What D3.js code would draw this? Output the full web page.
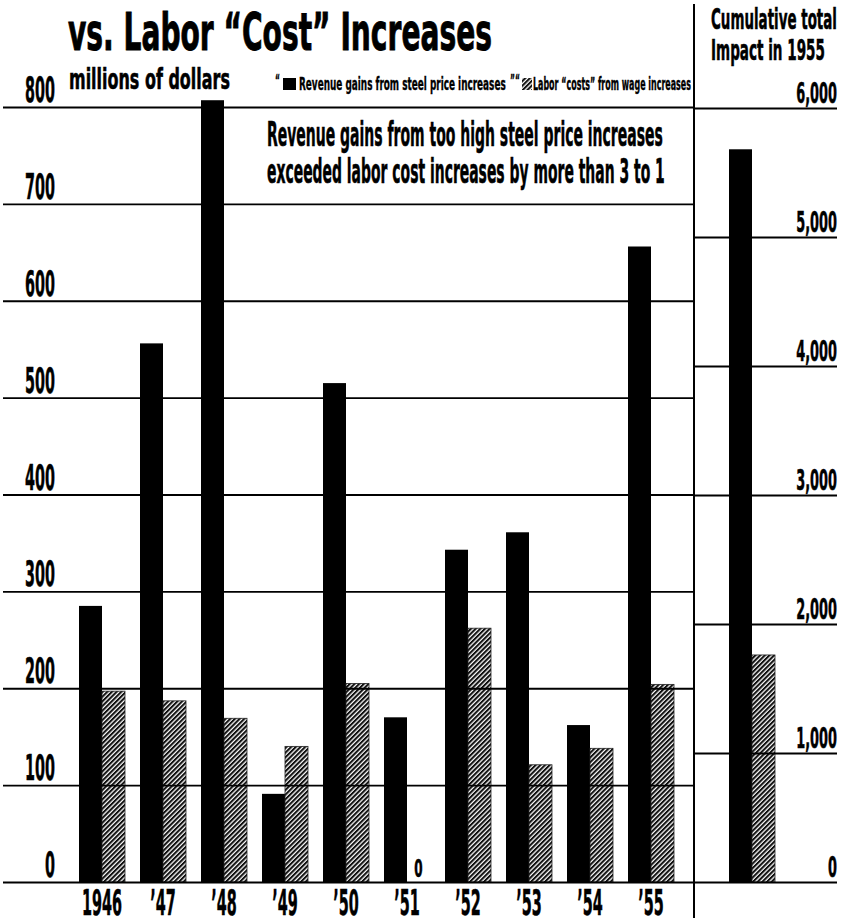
<!DOCTYPE html>
<html>
<head>
<meta charset="utf-8">
<script src="https://cdn.jsdelivr.net/npm/d3@7"></script>
<style>
  html, body { margin: 0; padding: 0; background: #fff; }
  svg text { font-family: "DejaVu Sans", "Liberation Sans", sans-serif; font-weight: bold; fill: #000; }
</style>
</head>
<body>
<script>
// ---- data ----
const years = ["1946", "’47", "’48", "’49", "’50", "’51", "’52", "’53", "’54", "’55"];
const revenueGains = [285, 556, 807, 91, 515, 170, 343, 361, 162, 656];
const laborCosts   = [197, 187, 169, 140, 205, 0, 262, 121, 138, 204];
const cumulativeRevenue = 5680;
const cumulativeLabor = 1760;
const leftTicks = [0, 100, 200, 300, 400, 500, 600, 700, 800];
const rightTicks = [0, 1000, 2000, 3000, 4000, 5000, 6000];
const rightTickLabels = ["0", "1,000", "2,000", "3,000", "4,000", "5,000", "6,000"];
const series = ["revenue", "labor"];

const W = 846, H = 922;
const svg = d3.select("body").append("svg").attr("width", W).attr("height", H);

const defs = svg.append("defs");
const pat = defs.append("pattern").attr("id", "hatch")
  .attr("patternUnits", "userSpaceOnUse").attr("width", 3.3).attr("height", 3.3)
  .attr("patternTransform", "rotate(45)");
pat.append("rect").attr("width", 3.3).attr("height", 3.3).attr("fill", "#fff");
pat.append("line").attr("x1", 1).attr("y1", 0).attr("x2", 1).attr("y2", 3.3)
  .attr("stroke", "#111").attr("stroke-width", 2.1);

// ---- scales ----
const y = d3.scaleLinear().domain([0, 800]).range([882, 107]);
const yR = d3.scaleLinear().domain([0, 6000]).range([882, 108]);
const x0 = d3.scaleBand().domain(years).range([71.5, 681.5]).paddingInner(0.246).paddingOuter(0.123);
const x1 = d3.scaleBand().domain(series).range([0, x0.bandwidth()]);
const xR = d3.scaleBand().domain(["cum"]).range([729, 775]);
const x1R = d3.scaleBand().domain(series).range([0, xR.bandwidth()]);

function sText(x, yy, str, size, anchor, sx) {
  return svg.append("text")
    .attr("transform", `translate(${x},${yy}) scale(${sx},1)`)
    .attr("text-anchor", anchor).attr("font-size", size)
    .attr("stroke", "#000").attr("stroke-width", 0.6)
    .text(str);
}
// text scaled horizontally to an exact width (start anchored)
function fitText(x, yy, str, size, len, sw) {
  const t = svg.append("text").attr("font-size", size).text(str)
    .attr("stroke", "#000").attr("stroke-width", sw == null ? 0.6 : sw);
  const nat = t.node().getComputedTextLength();
  t.attr("transform", `translate(${x},${yy}) scale(${len / nat},1)`);
  return t;
}

// ---- bars (left) ----
const groups = svg.append("g").selectAll("g").data(years).join("g")
  .attr("transform", d => `translate(${x0(d)},0)`);
groups.append("rect")
  .attr("x", x1("revenue")).attr("width", x1.bandwidth())
  .attr("y", (d, i) => y(revenueGains[i])).attr("height", (d, i) => y(0) - y(revenueGains[i]))
  .attr("fill", "#000");
groups.filter((d, i) => laborCosts[i] > 0).append("rect")
  .attr("x", x1("labor")).attr("width", x1.bandwidth())
  .attr("y", d => y(laborCosts[years.indexOf(d)]))
  .attr("height", d => y(0) - y(laborCosts[years.indexOf(d)]))
  .attr("fill", "url(#hatch)").attr("stroke", "#222").attr("stroke-width", 0.8);
groups.filter((d, i) => laborCosts[i] === 0).each(function () {
  const g = d3.select(this);
  const cx = x0(g.datum()) + x1("labor") + x1.bandwidth() / 2;
  sText(cx, 877, "0", 24, "middle", 0.5);
});

// ---- bars (right) ----
svg.append("rect").attr("x", xR("cum") + x1R("revenue")).attr("width", x1R.bandwidth())
  .attr("y", yR(cumulativeRevenue)).attr("height", yR(0) - yR(cumulativeRevenue)).attr("fill", "#000");
svg.append("rect").attr("x", xR("cum") + x1R("labor")).attr("width", x1R.bandwidth())
  .attr("y", yR(cumulativeLabor)).attr("height", yR(0) - yR(cumulativeLabor))
  .attr("fill", "url(#hatch)").attr("stroke", "#222").attr("stroke-width", 0.8);

// ---- gridlines via axes ----
const gl = svg.append("g").attr("transform", "translate(694,0)")
  .call(d3.axisLeft(y).tickValues(leftTicks).tickSize(691).tickFormat(""));
gl.select(".domain").remove();
gl.selectAll("line").attr("stroke", "#000").attr("stroke-width", 1.8);
const gr = svg.append("g").attr("transform", "translate(694,0)")
  .call(d3.axisRight(yR).tickValues(rightTicks).tickSize(143).tickFormat(""));
gr.select(".domain").remove();
gr.selectAll("line").attr("stroke", "#000").attr("stroke-width", 1.8);

// divider
svg.append("line").attr("x1", 694).attr("x2", 694).attr("y1", 4).attr("y2", 918)
  .attr("stroke", "#000").attr("stroke-width", 2);

// ---- tick labels ----
leftTicks.forEach(v => sText(55, y(v) - 5, String(v), 35, "end", 0.41));
rightTicks.forEach((v, i) => sText(837, yR(v) - 5, rightTickLabels[i], 28, "end", 0.46));
years.forEach(d => sText(x0(d) + x0.bandwidth() / 2, 915, d, 36, "middle", 0.40));

// ---- titles and texts ----
fitText(68, 50, "vs. Labor “Cost” Increases", 52, 424, 1);
fitText(69, 89, "millions of dollars", 28, 161);
fitText(267, 146, "Revenue gains from too high steel price increases", 34, 396);
fitText(267, 183, "exceeded labor cost increases by more than 3 to 1", 34, 398);
fitText(711, 29, "Cumulative total", 29, 126);
fitText(711, 60, "Impact in 1955", 29, 114);

// legend
fitText(275, 86, "“", 16, 5, 0.3);
svg.append("rect").attr("x", 283).attr("y", 78).attr("width", 13).attr("height", 12).attr("fill", "#000");
fitText(299, 90, "Revenue gains from steel price increases", 17, 207, 0.4);
fitText(510, 86, "”“", 16, 10, 0.3);
svg.append("rect").attr("x", 522).attr("y", 78).attr("width", 10).attr("height", 12).attr("fill", "url(#hatch)");
fitText(533, 90, "Labor “costs” from wage increases", 17, 158, 0.4);
</script>
</body>
</html>
